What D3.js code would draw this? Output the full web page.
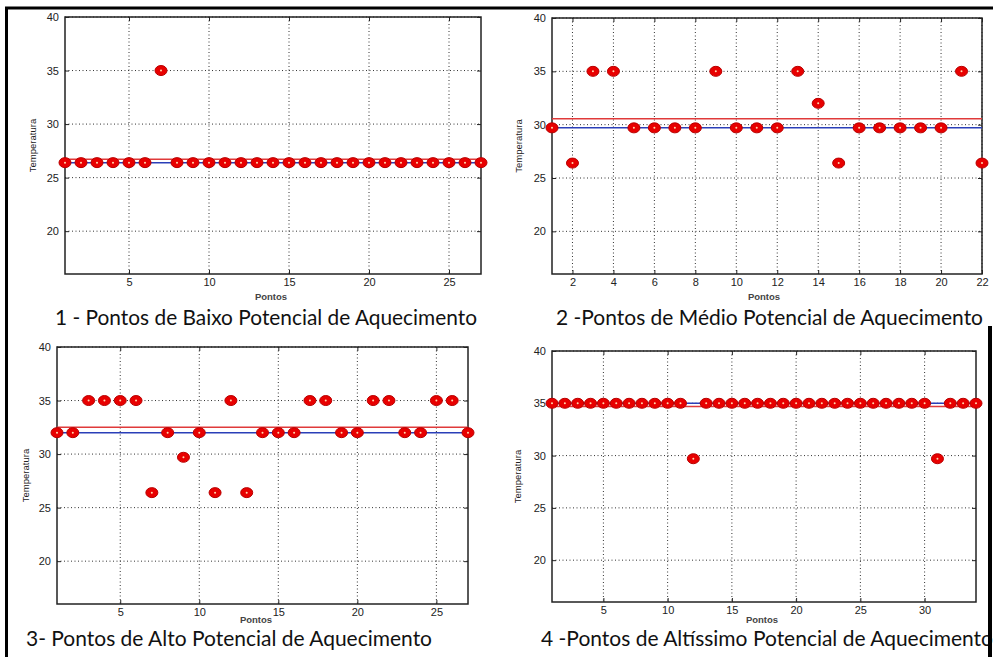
<!DOCTYPE html>
<html>
<head>
<meta charset="utf-8">
<script src="https://cdn.jsdelivr.net/npm/d3@7"></script>
<style>
  body { margin: 0; background: #fff; }
  svg { display: block; }
  .tick text { font-family: "Liberation Sans", Arial, sans-serif; font-size: 11px; fill: #222; }
</style>
</head>
<body>
<div id="chart"></div>
<script>
// temperatures, one value per point (x = 1..n)
const temp1 = [26.4, 26.4, 26.4, 26.4, 26.4, 26.4, 35, 26.4, 26.4, 26.4, 26.4, 26.4, 26.4, 26.4,
  26.4, 26.4, 26.4, 26.4, 26.4, 26.4, 26.4, 26.4, 26.4, 26.4, 26.4, 26.4, 26.4];
const temp2 = [29.7, 26.4, 35, 35, 29.7, 29.7, 29.7, 29.7, 35, 29.7, 29.7, 29.7, 35, 32, 26.4,
  29.7, 29.7, 29.7, 29.7, 29.7, 35, 26.4];
const temp3 = [32, 32, 35, 35, 35, 35, 26.4, 32, 29.7, 32, 26.4, 35, 26.4, 32, 32, 32, 35, 35,
  32, 32, 35, 35, 32, 32, 35, 35, 32];
const temp4 = [35, 35, 35, 35, 35, 35, 35, 35, 35, 35, 35, 29.7, 35, 35, 35, 35, 35, 35, 35, 35,
  35, 35, 35, 35, 35, 35, 35, 35, 35, 35, 29.7, 35, 35, 35];

const yTicks = [20, 25, 30, 35, 40];
const xTicks1 = [5, 10, 15, 20, 25];
const xTicks2 = [2, 4, 6, 8, 10, 12, 14, 16, 18, 20, 22];
const xTicks3 = [5, 10, 15, 20, 25];
const xTicks4 = [5, 10, 15, 20, 25, 30];

const captions = [
  "1 - Pontos de Baixo Potencial de Aquecimento",
  "2 -Pontos de Médio Potencial de Aquecimento",
  "3- Pontos de Alto Potencial de Aquecimento",
  "4 -Pontos de Altíssimo Potencial de Aquecimento"
];

const W = 993, H = 657;
const svg = d3.select("#chart").append("svg").attr("width", W).attr("height", H);

// panel boxes
const panels = [
  { data: temp1, ticks: xTicks1, L: 65,  R: 481, T: 17,  B: 274, ylx: 33,  xlx: 271, xly: 300, capX: 55,  capY: 325, capW: 422 },
  { data: temp2, ticks: xTicks2, L: 552, R: 982, T: 18,  B: 274, ylx: 519, xlx: 764, xly: 300, capX: 556, capY: 325, capW: 427 },
  { data: temp3, ticks: xTicks3, L: 57,  R: 468, T: 347, B: 604, ylx: 26,  xlx: 256, xly: 623, capX: 26,  capY: 646, capW: 406 },
  { data: temp4, ticks: xTicks4, L: 552, R: 976, T: 351, B: 602, ylx: 518, xlx: 762, xly: 623, capX: 541, capY: 646, capW: 452 }
];

panels.forEach((p, i) => {
  const x = d3.scaleLinear().domain([1, p.data.length]).range([p.L, p.R]);
  const y = d3.scaleLinear().domain([16, 40]).range([p.B, p.T]);
  const g = svg.append("g");

  // dotted grid
  g.selectAll(".gx").data(p.ticks).enter().append("line")
    .attr("x1", d => x(d)).attr("x2", d => x(d)).attr("y1", p.T).attr("y2", p.B)
    .attr("stroke", "#333").attr("stroke-width", 1).attr("stroke-dasharray", "1,2.5");
  g.selectAll(".gy").data(yTicks).enter().append("line")
    .attr("x1", p.L).attr("x2", p.R).attr("y1", d => y(d)).attr("y2", d => y(d))
    .attr("stroke", "#333").attr("stroke-width", 1).attr("stroke-dasharray", "1,2.5");

  // axes, ticks pointing inward like matlab
  g.append("g").attr("transform", `translate(0,${p.B})`)
    .call(d3.axisBottom(x).tickValues(p.ticks).tickSizeInner(-4).tickSizeOuter(0).tickPadding(4))
    .call(a => a.select(".domain").remove());
  g.append("g").attr("transform", `translate(0,${p.T})`)
    .call(d3.axisTop(x).tickValues(p.ticks).tickSizeInner(-4).tickSizeOuter(0).tickFormat(""))
    .call(a => a.select(".domain").remove());
  g.append("g").attr("transform", `translate(${p.L},0)`)
    .call(d3.axisLeft(y).tickValues(yTicks).tickSizeInner(-4).tickSizeOuter(0).tickPadding(6))
    .call(a => a.select(".domain").remove());
  g.append("g").attr("transform", `translate(${p.R},0)`)
    .call(d3.axisRight(y).tickValues(yTicks).tickSizeInner(-4).tickSizeOuter(0).tickFormat(""))
    .call(a => a.select(".domain").remove());
  g.selectAll(".tick line").attr("stroke", "#222");

  g.append("rect").attr("x", p.L).attr("y", p.T)
    .attr("width", p.R - p.L).attr("height", p.B - p.T)
    .attr("fill", "none").attr("stroke", "#222").attr("stroke-width", 1.5);

  // mean (red) and median (blue)
  const mean = d3.mean(p.data), med = d3.median(p.data);
  g.append("line").attr("x1", x(1)).attr("x2", x(p.data.length))
    .attr("y1", y(mean)).attr("y2", y(mean))
    .attr("stroke", "#e03a3a").attr("stroke-width", 1.5);
  g.append("line").attr("x1", x(1)).attr("x2", x(p.data.length))
    .attr("y1", y(med)).attr("y2", y(med))
    .attr("stroke", "#2a3fb8").attr("stroke-width", 1.5);

  // markers
  const pts = g.selectAll(".pt").data(p.data).enter().append("g")
    .attr("transform", (d, j) => `translate(${x(j + 1)},${y(d)})`);
  pts.append("ellipse").attr("rx", 6).attr("ry", 5)
    .attr("fill", "#e80000").attr("stroke", "#b80000").attr("stroke-width", 1);
  pts.append("circle").attr("r", 1).attr("fill", "#ffd8b0");

  // labels
  g.append("text")
    .attr("transform", `translate(${p.ylx},${(p.T + p.B) / 2}) rotate(-90)`)
    .attr("text-anchor", "middle").attr("dominant-baseline", "middle")
    .style("font-family", "Liberation Sans, Arial, sans-serif").style("font-size", "9.5px")
    .style("fill", "#222").text("Temperatura");
  g.append("text").attr("x", p.xlx).attr("y", p.xly)
    .attr("text-anchor", "middle")
    .style("font-family", "Liberation Sans, Arial, sans-serif").style("font-size", "9.5px")
    .style("font-weight", "bold").style("fill", "#444").text("Pontos");

  g.append("text").attr("x", p.capX).attr("y", p.capY)
    .attr("textLength", p.capW).attr("lengthAdjust", "spacingAndGlyphs")
    .style("font-family", "Lato, 'Open Sans', sans-serif").style("font-size", "21px")
    .style("fill", "#111").text(captions[i]);
});

// frame of the composite figure
svg.append("line").attr("x1", 5).attr("x2", W).attr("y1", 8).attr("y2", 8)
  .attr("stroke", "#000").attr("stroke-width", 3);
svg.append("line").attr("x1", 6.5).attr("x2", 6.5).attr("y1", 7).attr("y2", H)
  .attr("stroke", "#000").attr("stroke-width", 3);
svg.append("line").attr("x1", 990).attr("x2", 990).attr("y1", 326).attr("y2", H)
  .attr("stroke", "#000").attr("stroke-width", 4);
</script>
</body>
</html>
